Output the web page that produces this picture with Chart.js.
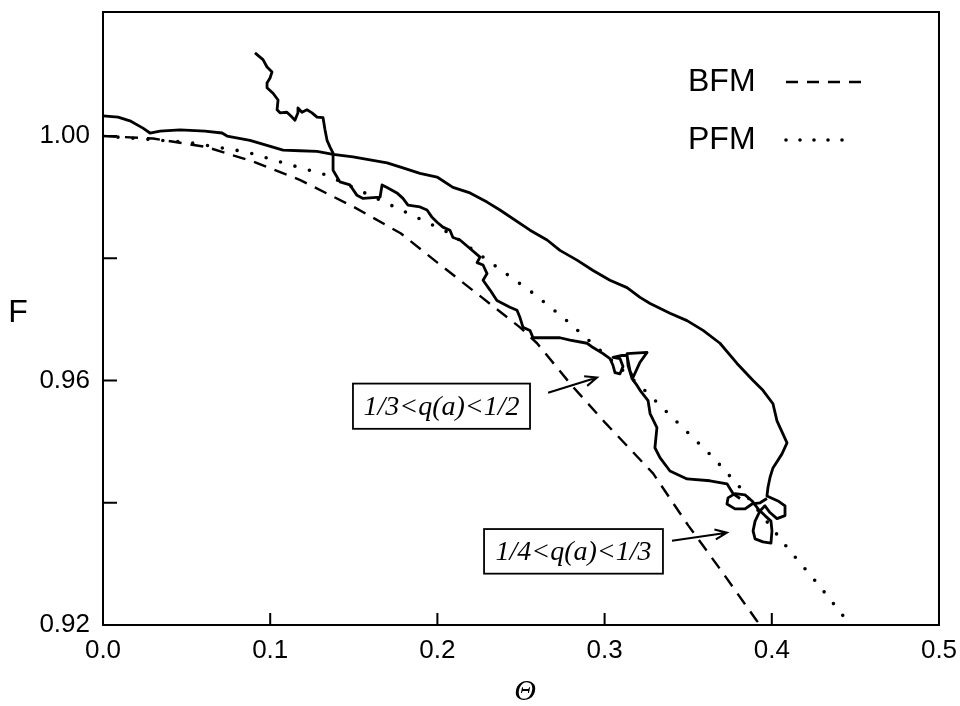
<!DOCTYPE html>
<html>
<head>
<meta charset="utf-8">
<script src="https://cdn.jsdelivr.net/npm/chart.js@4.4.1/dist/chart.umd.min.js"></script>
<style>
    html, body { margin: 0; padding: 0; background: #fff; }
    #wrap { width: 960px; height: 706px; }
</style>
</head>
<body>
<div id="wrap"><canvas id="chart" width="960" height="706"></canvas></div>
<script>
// BFM model curve (dashed)
const bfmTheta = [0, 0.03, 0.062, 0.09, 0.118, 0.15, 0.178, 0.2, 0.221, 0.2494, 0.2596, 0.28, 0.3, 0.329, 0.35, 0.37, 0.391, 0.395];
const bfmF     = [1.0, 0.9996, 0.9982, 0.9958, 0.9928, 0.9884, 0.9841, 0.9793, 0.9748, 0.9687, 0.9661, 0.9593, 0.9532, 0.9448, 0.9363, 0.9288, 0.9207, 0.9195];

// PFM model curve (dotted)
const pfmTheta = [0, 0.05, 0.086, 0.108, 0.134, 0.176, 0.2075, 0.2374, 0.2572, 0.2757, 0.2847, 0.321, 0.365, 0.381, 0.4109, 0.4276, 0.4438];
const pfmF     = [1.0, 0.999, 0.9974, 0.9956, 0.9936, 0.9882, 0.9841, 0.9782, 0.9743, 0.9702, 0.968, 0.9592, 0.9474, 0.9425, 0.9321, 0.9267, 0.9211];

// simulation trace starting at theta = 0
const traceATheta = [0, 0.009, 0.0161, 0.0239, 0.0281, 0.0341, 0.0461, 0.061, 0.0712, 0.0742, 0.0879, 0.1077, 0.1178, 0.128, 0.1376,
    0.1495, 0.1597, 0.1699, 0.1794, 0.1896, 0.1998, 0.2093, 0.2195, 0.2297, 0.2374, 0.2554, 0.2656, 0.2733, 0.2835, 0.2931,
    0.3032, 0.3134, 0.3212, 0.3272, 0.3391, 0.3493, 0.3589, 0.369, 0.3792, 0.3888, 0.3947, 0.4007, 0.4031, 0.4091, 0.4061,
    0.4007, 0.3989, 0.3977, 0.3971,
    0.4037, 0.4079, 0.4079, 0.4031, 0.3989, 0.3959, 0.393, 0.39, 0.3888, 0.39, 0.3947, 0.3995, 0.4001, 0.3995, 0.3959,
    0.3918, 0.3882, 0.384, 0.378, 0.3738, 0.3732, 0.378, 0.384, 0.3882, 0.393, 0.3971];
const traceAF = [1.0033, 1.0031, 1.0025, 1.0013, 1.0005, 1.0008, 1.001, 1.0008, 1.0005, 1.0, 0.9993, 0.9977, 0.9976, 0.9975, 0.997,
    0.9966, 0.9961, 0.9956, 0.9948, 0.9939, 0.9933, 0.9916, 0.9907, 0.9892, 0.9879, 0.9846, 0.983, 0.9813, 0.9797, 0.978,
    0.9764, 0.9752, 0.9736, 0.9726, 0.971, 0.9698, 0.9682, 0.9661, 0.9628, 0.96, 0.9584, 0.9562, 0.9534, 0.9498, 0.948,
    0.9457, 0.9441, 0.9425, 0.9411,
    0.9403, 0.9395, 0.9379, 0.9374, 0.9384, 0.9395, 0.9387, 0.937, 0.9354, 0.9341, 0.9336, 0.9334, 0.9354, 0.937, 0.9379,
    0.939, 0.9403, 0.9413, 0.9415, 0.9408, 0.9398, 0.939, 0.939, 0.9398, 0.94, 0.9407];

// simulation trace starting above F = 1
const traceBTheta = [0.0909, 0.0957, 0.0981, 0.1011, 0.0999, 0.0981, 0.0981, 0.1017, 0.1047, 0.1041, 0.1059, 0.11, 0.113, 0.1148,
    0.1166, 0.1166, 0.119, 0.122, 0.125, 0.128, 0.1316, 0.1328, 0.134, 0.1358, 0.1376, 0.1376, 0.1417, 0.1477, 0.1519, 0.1555,
    0.1657, 0.1669, 0.1699, 0.1758, 0.1794, 0.1824, 0.1896, 0.1938, 0.1968, 0.1998, 0.2033, 0.2075, 0.2093, 0.2135, 0.2195,
    0.2255, 0.2237, 0.2273, 0.2297, 0.2273, 0.2315, 0.2356, 0.2434, 0.2476, 0.2494, 0.2512, 0.2554, 0.2572, 0.2656, 0.2733,
    0.2793, 0.2895, 0.2931, 0.2991, 0.3032, 0.305, 0.3062, 0.3092, 0.311, 0.3092, 0.305, 0.3104, 0.3134, 0.3152, 0.317,
    0.3212, 0.3254, 0.3134, 0.314, 0.3164, 0.3194, 0.3212, 0.326, 0.3272, 0.3313, 0.3301, 0.3331, 0.3391, 0.3493, 0.363,
    0.3732, 0.3768, 0.381];
const traceBF = [1.0136, 1.0125, 1.0113, 1.0105, 1.0095, 1.0087, 1.0079, 1.007, 1.0059, 1.0043, 1.0038, 1.0039, 1.0031, 1.0026,
    1.0038, 1.0046, 1.0039, 1.0043, 1.0038, 1.0031, 1.003, 1.001, 0.9993, 0.9982, 0.9972, 0.9944, 0.9925, 0.992, 0.9903, 0.9898,
    0.99, 0.992, 0.9916, 0.9907, 0.9898, 0.9887, 0.9884, 0.9879, 0.9867, 0.9859, 0.9851, 0.9846, 0.9834, 0.983, 0.9816,
    0.9802, 0.9793, 0.9789, 0.9775, 0.9764, 0.9748, 0.9731, 0.972, 0.9715, 0.9703, 0.9687, 0.9682, 0.967, 0.967, 0.967,
    0.9666, 0.9661, 0.9654, 0.9644, 0.9636, 0.9625, 0.9613, 0.9611, 0.9623, 0.9636, 0.9638, 0.9641, 0.9641, 0.9616, 0.9605,
    0.963, 0.9646, 0.9644, 0.9625, 0.9603, 0.9592, 0.9584, 0.9567, 0.9546, 0.9523, 0.949, 0.9474, 0.9452, 0.9439, 0.9436,
    0.9431, 0.9415, 0.9407];

// axis ticks
const xTicks = [0, 0.1, 0.2, 0.3, 0.4, 0.5];
const yTicks = [0.92, 0.94, 0.96, 0.98, 1.0];
const yLabelled = [0.92, 0.96, 1.0];

// legend entries and boxed annotations (positions in data units)
const legendItems = [
    { label: 'BFM', dash: [12, 9], width: 2.4, cap: 'butt' },
    { label: 'PFM', dash: [0, 14], width: 3.6, cap: 'round' }
];
const annotations = [
    { text: '1/3<q(a)<1/2', box: [0.1495, 0.9595, 0.2554, 0.9521], arrow: [0.2662, 0.958, 0.2955, 0.9605] },
    { text: '1/4<q(a)<1/3', box: [0.2279, 0.9357, 0.3349, 0.9284], arrow: [0.3403, 0.9338, 0.3732, 0.9351] }
];

const SANS = "'Liberation Sans', Arial, Helvetica, sans-serif";
const SERIF = "'Liberation Serif', 'Times New Roman', serif";

function toPoints(xs, ys) {
    return xs.map((x, i) => ({ x: x, y: ys[i] }));
}

function lineSet(label, xs, ys, extra) {
    return Object.assign({
        label: label,
        data: toPoints(xs, ys),
        showLine: true,
        borderColor: '#000',
        borderWidth: 2.8,
        pointRadius: 0,
        tension: 0,
        fill: false,
        borderJoinStyle: 'round'
    }, extra || {});
}

// drop the label overflow padding chart.js adds, so the plot box sits where we want it
function noScalePadding(scale) {
    scale.paddingTop = 0;
    scale.paddingBottom = 0;
    scale.paddingLeft = 0;
    scale.paddingRight = 0;
}

// frame, inward ticks, axis letters, legend and annotation boxes
const decorations = {
    id: 'decorations',
    afterDraw(chart) {
        const ctx = chart.ctx;
        const area = chart.chartArea;
        const xs = chart.scales.x;
        const ys = chart.scales.y;
        ctx.save();
        ctx.strokeStyle = '#000';
        ctx.fillStyle = '#000';
        ctx.lineWidth = 2;
        ctx.setLineDash([]);
        ctx.strokeRect(area.left, area.top, area.right - area.left, area.bottom - area.top);

        // inward tick marks
        ctx.beginPath();
        xTicks.forEach(v => {
            const px = xs.getPixelForValue(v);
            if (px <= area.left + 1 || px >= area.right - 1) return;
            ctx.moveTo(px, area.bottom);
            ctx.lineTo(px, area.bottom - 12);
        });
        yTicks.forEach(v => {
            const py = ys.getPixelForValue(v);
            if (py >= area.bottom - 1 || py <= area.top + 1) return;
            ctx.moveTo(area.left, py);
            ctx.lineTo(area.left + 14, py);
        });
        ctx.stroke();

        // axis letters
        ctx.font = '32px ' + SANS;
        ctx.textAlign = 'center';
        ctx.textBaseline = 'middle';
        ctx.fillText('F', 18, ys.getPixelForValue(0.971));
        ctx.font = 'italic 30px ' + SERIF;
        ctx.fillText('\u0398', (area.left + area.right) / 2 + 4, 692);

        // legend
        legendItems.forEach((item, i) => {
            const y = 82 + i * 58;
            ctx.font = '32px ' + SANS;
            ctx.textAlign = 'left';
            ctx.fillText(item.label, 688, y);
            ctx.beginPath();
            ctx.setLineDash(item.dash);
            ctx.lineCap = item.cap;
            ctx.lineWidth = item.width;
            ctx.moveTo(786, y);
            ctx.lineTo(i === 0 ? 867 : 855, y);
            ctx.stroke();
        });
        ctx.setLineDash([]);
        ctx.lineCap = 'butt';

        // boxed labels with arrows
        annotations.forEach(a => {
            const x0 = xs.getPixelForValue(a.box[0]);
            const y0 = ys.getPixelForValue(a.box[1]);
            const x1 = xs.getPixelForValue(a.box[2]);
            const y1 = ys.getPixelForValue(a.box[3]);
            ctx.fillStyle = '#fff';
            ctx.fillRect(x0, y0, x1 - x0, y1 - y0);
            ctx.fillStyle = '#000';
            ctx.lineWidth = 1.8;
            ctx.strokeRect(x0, y0, x1 - x0, y1 - y0);
            ctx.font = 'italic 28px ' + SERIF;
            ctx.textAlign = 'center';
            ctx.fillText(a.text, (x0 + x1) / 2, (y0 + y1) / 2 + 1);

            const ax0 = xs.getPixelForValue(a.arrow[0]);
            const ay0 = ys.getPixelForValue(a.arrow[1]);
            const ax1 = xs.getPixelForValue(a.arrow[2]);
            const ay1 = ys.getPixelForValue(a.arrow[3]);
            const ang = Math.atan2(ay1 - ay0, ax1 - ax0);
            ctx.lineWidth = 2;
            ctx.beginPath();
            ctx.moveTo(ax0, ay0);
            ctx.lineTo(ax1, ay1);
            ctx.moveTo(ax1 - 13 * Math.cos(ang - 0.4), ay1 - 13 * Math.sin(ang - 0.4));
            ctx.lineTo(ax1, ay1);
            ctx.lineTo(ax1 - 13 * Math.cos(ang + 0.4), ay1 - 13 * Math.sin(ang + 0.4));
            ctx.stroke();
        });
        ctx.restore();
    }
};

new Chart(document.getElementById('chart').getContext('2d'), {
    type: 'scatter',
    data: {
        datasets: [
            lineSet('trace A', traceATheta, traceAF),
            lineSet('trace B', traceBTheta, traceBF),
            lineSet('BFM', bfmTheta, bfmF, { borderDash: [13, 9], borderWidth: 2.4 }),
            lineSet('PFM', pfmTheta, pfmF, { borderDash: [0, 15], borderWidth: 3.6, borderCapStyle: 'round' })
        ]
    },
    options: {
        responsive: false,
        animation: false,
        layout: { padding: { top: 12, right: 21, left: 0, bottom: 0 } },
        plugins: {
            legend: { display: false },
            tooltip: { enabled: false }
        },
        scales: {
            x: {
                type: 'linear',
                min: 0,
                max: 0.5,
                afterFit(scale) { scale.height = 81; noScalePadding(scale); },
                afterBuildTicks(scale) { scale.ticks = xTicks.map(v => ({ value: v })); },
                grid: { display: false, drawTicks: false },
                border: { display: false },
                ticks: {
                    padding: 10,
                    color: '#000',
                    font: { family: SANS, size: 26 },
                    maxRotation: 0,
                    callback: v => v.toFixed(1)
                }
            },
            y: {
                type: 'linear',
                min: 0.92,
                max: 1.0203,
                afterFit(scale) { scale.width = 103; noScalePadding(scale); },
                afterBuildTicks(scale) { scale.ticks = yTicks.map(v => ({ value: v })); },
                grid: { display: false, drawTicks: false },
                border: { display: false },
                ticks: {
                    padding: 13,
                    color: '#000',
                    font: { family: SANS, size: 26 },
                    callback: v => yLabelled.some(l => Math.abs(l - v) < 1e-6) ? v.toFixed(2) : ''
                }
            }
        }
    },
    plugins: [decorations]
});
</script>
</body>
</html>
